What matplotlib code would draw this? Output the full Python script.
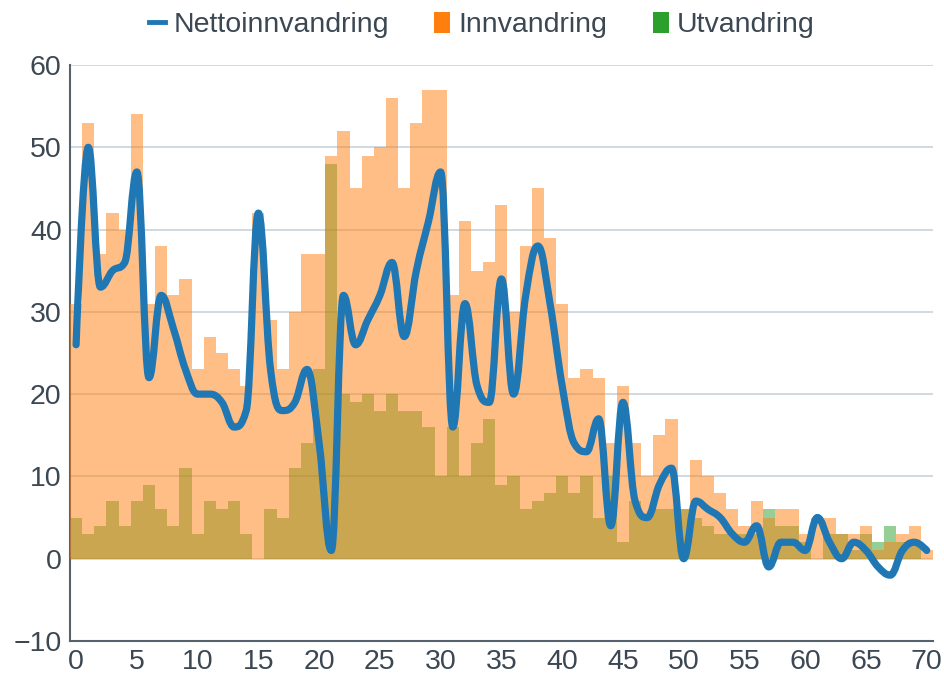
import numpy as np
import matplotlib
matplotlib.use("Agg")
import matplotlib.pyplot as plt
from matplotlib.path import Path
from matplotlib.patches import PathPatch, Patch
from matplotlib.lines import Line2D

# Age 0..70
ages = list(range(0, 71))

innvandring = [31, 53, 37, 42, 40, 54, 31, 38, 32, 34,
               23, 27, 25, 23, 21, 42, 29, 23, 30, 37,
               37, 49, 52, 45, 49, 50, 56, 45, 53, 57,
               57, 32, 41, 35, 36, 43, 30, 38, 45, 39,
               31, 22, 23, 22, 14, 21, 14, 10, 15, 17,
               6, 12, 10, 8, 6, 4, 7, 5, 6, 6,
               3, 5, 5, 3, 3, 4, 1, 2, 3, 4,
               1]

utvandring = [5, 3, 4, 7, 4, 7, 9, 6, 4, 11,
              3, 7, 6, 7, 3, 0, 6, 5, 11, 14,
              23, 48, 20, 19, 20, 18, 20, 18, 18, 16,
              10, 16, 10, 14, 17, 9, 10, 6, 7, 8,
              10, 8, 10, 5, 10, 2, 7, 5, 6, 6,
              6, 5, 4, 3, 3, 3, 3, 6, 4, 4,
              2, 0, 3, 3, 1, 3, 2, 4, 2, 2,
              0]

netto = [26, 50, 33, 35, 36, 47, 22, 32, 28, 23,
         20, 20, 19, 16, 18, 42, 23, 18, 19, 23,
         14, 1, 32, 26, 29, 32, 36, 27, 35, 41,
         47, 16, 31, 21, 19, 34, 20, 32, 38, 31,
         21, 14, 13, 17, 4, 19, 7, 5, 9, 11,
         0, 7, 6, 5, 3, 2, 4, -1, 2, 2,
         1, 5, 2, 0, 2, 1, -1, -2, 1, 2,
         1]

y_ticks = [-10, 0, 10, 20, 30, 40, 50, 60]
x_ticks = [0, 5, 10, 15, 20, 25, 30, 35, 40, 45, 50, 55, 60, 65, 70]

text_color = "#3b4752"
blue = "#1f77b4"
orange = "#ff7f0e"
green = "#2ca02c"

plt.rcParams["font.family"] = ["Liberation Sans", "DejaVu Sans"]


def spline_path(xs, ys, smoothing=1.5):
    # Bezier spline through every point, same idea as a Highcharts "spline" series
    n = len(xs)
    denom = smoothing + 1
    left = [None] * n
    right = [None] * n
    for i in range(1, n - 1):
        x, y = xs[i], ys[i]
        lx, ly = xs[i - 1], ys[i - 1]
        nx, ny = xs[i + 1], ys[i + 1]
        lcx = (smoothing * x + lx) / denom
        lcy = (smoothing * y + ly) / denom
        rcx = (smoothing * x + nx) / denom
        rcy = (smoothing * y + ny) / denom
        corr = (rcy - lcy) * (rcx - x) / (rcx - lcx) + y - rcy
        lcy += corr
        rcy += corr
        if lcy > ly and lcy > y:
            lcy = max(ly, y)
            rcy = 2 * y - lcy
        elif lcy < ly and lcy < y:
            lcy = min(ly, y)
            rcy = 2 * y - lcy
        if rcy > ny and rcy > y:
            rcy = max(ny, y)
            lcy = 2 * y - rcy
        elif rcy < ny and rcy < y:
            rcy = min(ny, y)
            lcy = 2 * y - rcy
        left[i] = (lcx, lcy)
        right[i] = (rcx, rcy)
    verts = [(xs[0], ys[0])]
    codes = [Path.MOVETO]
    for i in range(1, n):
        c1 = right[i - 1] if right[i - 1] is not None else (xs[i - 1], ys[i - 1])
        c2 = left[i] if left[i] is not None else (xs[i], ys[i])
        verts += [c1, c2, (xs[i], ys[i])]
        codes += [Path.CURVE4] * 3
    return Path(verts, codes)


fig = plt.figure(figsize=(9.45, 6.8), dpi=100)
ax = fig.add_axes([0.0741, 0.0574, 0.913, 0.847])

# Utvandring first, Innvandring drawn over it -> olive overlap
ax.bar(ages, utvandring, width=1.0, color=green, alpha=0.5, linewidth=0, zorder=2)
ax.bar(ages, innvandring, width=1.0, color=orange, alpha=0.5, linewidth=0, zorder=3)

path = spline_path(np.array(ages, dtype=float), np.array(netto, dtype=float))
ax.add_patch(PathPatch(path, facecolor="none", edgecolor=blue, linewidth=5.2,
                       capstyle="round", joinstyle="round", zorder=4))

ax.set_xlim(-0.5, 70.5)
ax.set_ylim(-10, 60)
ax.set_yticks(y_ticks)
ax.set_xticks(x_ticks)
ax.set_yticklabels(["\u221210" if t < 0 else str(t) for t in y_ticks])
ax.tick_params(length=0, labelsize=20.5, colors=text_color, pad=6)
ax.tick_params(axis="x", pad=6)
ax.grid(axis="y", color="#c5cfd8", linewidth=1.1, zorder=0)
ax.set_axisbelow(True)

for side in ["top", "right"]:
    ax.spines[side].set_visible(False)
for side in ["left", "bottom"]:
    ax.spines[side].set_color("#56636e")
    ax.spines[side].set_linewidth(1.5)

handles = [
    Line2D([0], [0], color=blue, linewidth=3.5),
    Patch(facecolor=orange, edgecolor="none"),
    Patch(facecolor=green, edgecolor="none"),
]
fig.legend(handles, ["Nettoinnvandring", "Innvandring", "Utvandring"],
           loc="upper center", bbox_to_anchor=(0.51, 1.02), ncol=3,
           frameon=False, fontsize=20.5, labelcolor=text_color,
           handlelength=0.55, handleheight=0.75, handletextpad=0.3,
           columnspacing=1.6)

plt.savefig("out.png", dpi=100)
